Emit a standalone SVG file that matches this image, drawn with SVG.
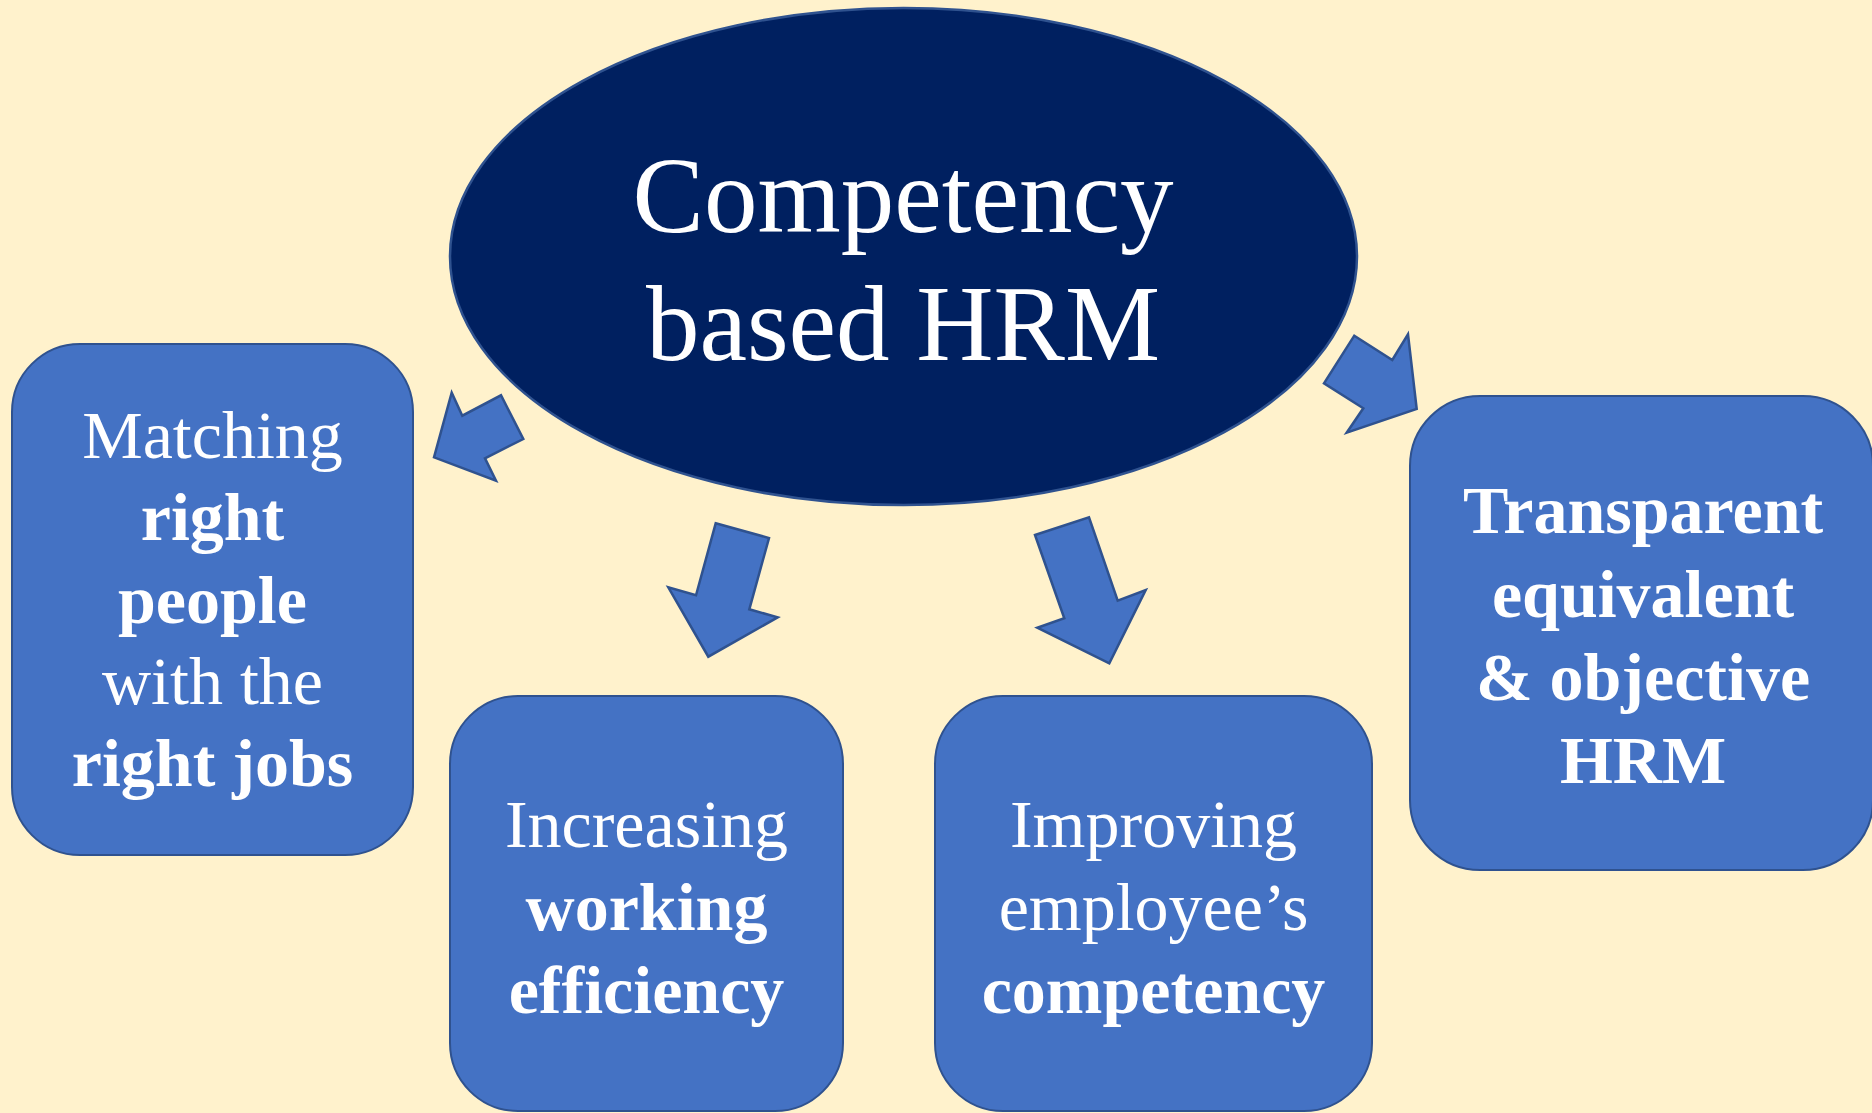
<svg xmlns="http://www.w3.org/2000/svg" width="1872" height="1113" viewBox="0 0 1872 1113">
  <style>
    .box { fill: #4472C4; stroke: #2F528F; stroke-width: 2; }
    .hub { fill: #002060; stroke: #2F528F; stroke-width: 2.5; }
    .arrow { fill: #4472C4; stroke: #2F528F; stroke-width: 2.5; stroke-linejoin: miter; }
    text { font-family: "Liberation Serif", "Times New Roman", serif; fill: #FFFFFF; text-anchor: middle; }
    .t68 { font-size: 68px; }
    .b { font-weight: bold; }
    .hubtxt { font-size: 107px; }
  </style>

  <!-- background -->
  <rect x="0" y="0" width="1872" height="1113" fill="#FFF2CC"/>

  <!-- central node -->
  <g id="hub">
    <ellipse class="hub" cx="903.5" cy="256.5" rx="453.5" ry="248.5"/>
    <text class="hubtxt" x="903" y="232">Competency</text>
    <text class="hubtxt" x="903" y="360">based HRM</text>
  </g>

  <!-- outcome nodes -->
  <g id="matching">
    <rect class="box" x="12" y="344" width="401" height="511" rx="68" ry="68"/>
    <text class="t68" x="212.5" y="458">Matching</text>
    <text class="t68 b" x="212.5" y="540">right</text>
    <text class="t68 b" x="212.5" y="623">people</text>
    <text class="t68" x="212.5" y="704">with the</text>
    <text class="t68 b" x="212.5" y="786">right jobs</text>
  </g>

  <g id="efficiency">
    <rect class="box" x="450" y="696" width="393" height="415" rx="68" ry="68"/>
    <text class="t68" x="646.5" y="847">Increasing</text>
    <text class="t68 b" x="646.5" y="930">working</text>
    <text class="t68 b" x="646.5" y="1013">efficiency</text>
  </g>

  <g id="competency">
    <rect class="box" x="935" y="696" width="437" height="415" rx="68" ry="68"/>
    <text class="t68" x="1153.5" y="847">Improving</text>
    <text class="t68" x="1153.5" y="930">employee’s</text>
    <text class="t68 b" x="1153.5" y="1013">competency</text>
  </g>

  <g id="transparent">
    <rect class="box" x="1410" y="396" width="463" height="474" rx="70" ry="70"/>
    <text class="t68 b" x="1643" y="533">Transparent</text>
    <text class="t68 b" x="1643" y="617">equivalent</text>
    <text class="t68 b" x="1643" y="700">&amp; objective</text>
    <text class="t68 b" x="1643" y="783">HRM</text>
  </g>

  <!-- block arrows from the hub to each outcome -->
  <g id="connectors">
    <polygon class="arrow" points="434,457.3 451.7,392.7 462.3,415.7 501,395.3 523.3,439 485,458.3 496,480.7"/>
    <polygon class="arrow" points="715.7,523.3 769,538 749.3,609.3 777.7,617.3 708.3,656.7 668.3,587.3 696,595.3"/>
    <polygon class="arrow" points="1035,535 1089,517.3 1117.7,600.7 1145.7,590 1109.3,663.3 1037.3,627.7 1064.3,618.3"/>
    <polygon class="arrow" points="1354.3,335.7 1392.3,360 1408,334.3 1416.7,409 1346.7,432.7 1363.3,408.3 1324,383.3"/>
  </g>
</svg>
